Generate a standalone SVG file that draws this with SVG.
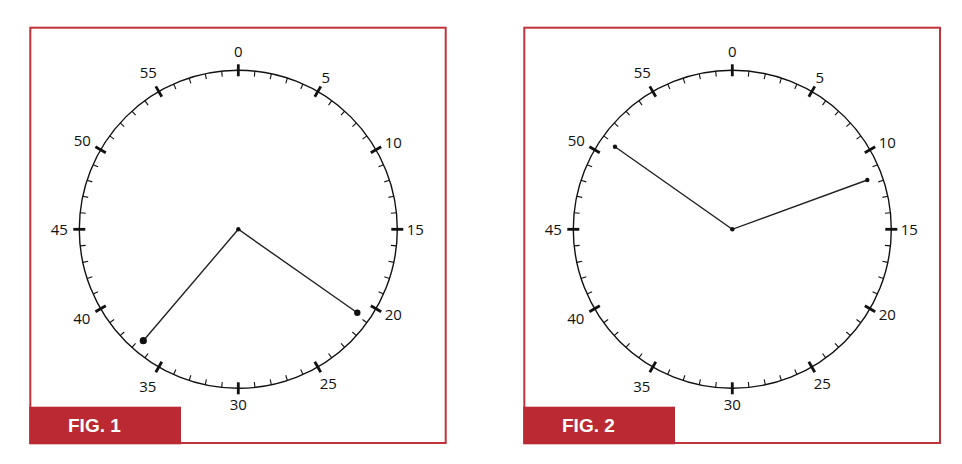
<svg xmlns="http://www.w3.org/2000/svg" xmlns:xlink="http://www.w3.org/1999/xlink" width="962" height="464" viewBox="0 0 962 464">
<style>
.frame{fill:none;stroke:#c2323a;stroke-width:2}
.tag{fill:#bb2a32}
.tagtxt{font-family:"Liberation Sans",Arial,sans-serif;font-weight:bold;font-size:19px;fill:#fff}
.num{font-family:"Open Sans","Liberation Sans",sans-serif;font-size:15px;fill:#111;text-anchor:middle}
.face{fill:none;stroke:#111;stroke-width:1.4}
.minor{stroke:#111;stroke-width:1.1}
.major{stroke:#111;stroke-width:2.8}
.hand{stroke:#222;stroke-width:1.4;fill:none}
.dot{fill:#111}
</style>
<defs>
<line id="m" class="minor" x1="0" y1="-159" x2="0" y2="-153.5"/>
<line id="M" class="major" x1="0" y1="-165" x2="0" y2="-153"/>
<g id="dial">
<circle class="face" cx="0" cy="0" r="159"/>
<use xlink:href="#M" transform="rotate(0)"/><use xlink:href="#m" transform="rotate(6)"/><use xlink:href="#m" transform="rotate(12)"/><use xlink:href="#m" transform="rotate(18)"/><use xlink:href="#m" transform="rotate(24)"/>
<use xlink:href="#M" transform="rotate(30)"/><use xlink:href="#m" transform="rotate(36)"/><use xlink:href="#m" transform="rotate(42)"/><use xlink:href="#m" transform="rotate(48)"/><use xlink:href="#m" transform="rotate(54)"/>
<use xlink:href="#M" transform="rotate(60)"/><use xlink:href="#m" transform="rotate(66)"/><use xlink:href="#m" transform="rotate(72)"/><use xlink:href="#m" transform="rotate(78)"/><use xlink:href="#m" transform="rotate(84)"/>
<use xlink:href="#M" transform="rotate(90)"/><use xlink:href="#m" transform="rotate(96)"/><use xlink:href="#m" transform="rotate(102)"/><use xlink:href="#m" transform="rotate(108)"/><use xlink:href="#m" transform="rotate(114)"/>
<use xlink:href="#M" transform="rotate(120)"/><use xlink:href="#m" transform="rotate(126)"/><use xlink:href="#m" transform="rotate(132)"/><use xlink:href="#m" transform="rotate(138)"/><use xlink:href="#m" transform="rotate(144)"/>
<use xlink:href="#M" transform="rotate(150)"/><use xlink:href="#m" transform="rotate(156)"/><use xlink:href="#m" transform="rotate(162)"/><use xlink:href="#m" transform="rotate(168)"/><use xlink:href="#m" transform="rotate(174)"/>
<use xlink:href="#M" transform="rotate(180)"/><use xlink:href="#m" transform="rotate(186)"/><use xlink:href="#m" transform="rotate(192)"/><use xlink:href="#m" transform="rotate(198)"/><use xlink:href="#m" transform="rotate(204)"/>
<use xlink:href="#M" transform="rotate(210)"/><use xlink:href="#m" transform="rotate(216)"/><use xlink:href="#m" transform="rotate(222)"/><use xlink:href="#m" transform="rotate(228)"/><use xlink:href="#m" transform="rotate(234)"/>
<use xlink:href="#M" transform="rotate(240)"/><use xlink:href="#m" transform="rotate(246)"/><use xlink:href="#m" transform="rotate(252)"/><use xlink:href="#m" transform="rotate(258)"/><use xlink:href="#m" transform="rotate(264)"/>
<use xlink:href="#M" transform="rotate(270)"/><use xlink:href="#m" transform="rotate(276)"/><use xlink:href="#m" transform="rotate(282)"/><use xlink:href="#m" transform="rotate(288)"/><use xlink:href="#m" transform="rotate(294)"/>
<use xlink:href="#M" transform="rotate(300)"/><use xlink:href="#m" transform="rotate(306)"/><use xlink:href="#m" transform="rotate(312)"/><use xlink:href="#m" transform="rotate(318)"/><use xlink:href="#m" transform="rotate(324)"/>
<use xlink:href="#M" transform="rotate(330)"/><use xlink:href="#m" transform="rotate(336)"/><use xlink:href="#m" transform="rotate(342)"/><use xlink:href="#m" transform="rotate(348)"/><use xlink:href="#m" transform="rotate(354)"/>
</g>
<g id="labels">
<text class="num" x="0" y="-172.5">0</text>
<text class="num" x="87.5" y="-146.7">5</text>
<text class="num" x="155" y="-81.7">10</text>
<text class="num" x="177" y="5.3">15</text>
<text class="num" x="155" y="91">20</text>
<text class="num" x="90" y="159.3">25</text>
<text class="num" x="0" y="181">30</text>
<text class="num" x="-90.5" y="162.7">35</text>
<text class="num" x="-156.5" y="95">40</text>
<text class="num" x="-179" y="5.3">45</text>
<text class="num" x="-156" y="-83">50</text>
<text class="num" x="-90" y="-151.7">55</text>
</g>
</defs>
<rect width="962" height="464" fill="#fff"/>

<g id="fig1">
<rect class="frame" x="30.3" y="27.7" width="415.4" height="415.3"/>
<g id="fig1-dial" transform="translate(238.3,229.3)">
<use xlink:href="#dial"/>
<use xlink:href="#labels"/>
</g>
<g id="fig1-hands">
<polyline class="hand" points="143.3,340.7 238.3,229.3 357.3,312.7"/>
<circle class="dot" cx="238.3" cy="229.3" r="2.2"/>
<circle class="dot" cx="143.3" cy="340.7" r="3.6"/>
<circle class="dot" cx="357.3" cy="312.7" r="3.2"/>
</g>
<g id="fig1-tag">
<rect class="tag" x="29.3" y="406.7" width="151.7" height="37.6"/>
<text class="tagtxt" x="68" y="432">FIG. 1</text>
</g>
</g>

<g id="fig2">
<rect class="frame" x="524.3" y="27.7" width="415.7" height="415.3"/>
<g id="fig2-dial" transform="translate(732.3,229.3)">
<use xlink:href="#dial"/>
<use xlink:href="#labels"/>
</g>
<g id="fig2-hands">
<polyline class="hand" points="615,146.7 732.3,229.3 867.3,180"/>
<circle class="dot" cx="732.3" cy="229.3" r="2.2"/>
<circle class="dot" cx="615" cy="146.7" r="2.2"/>
<circle class="dot" cx="867.3" cy="180" r="2.2"/>
</g>
<g id="fig2-tag">
<rect class="tag" x="523.3" y="406.7" width="151.7" height="37.6"/>
<text class="tagtxt" x="562" y="432">FIG. 2</text>
</g>
</g>
</svg>
